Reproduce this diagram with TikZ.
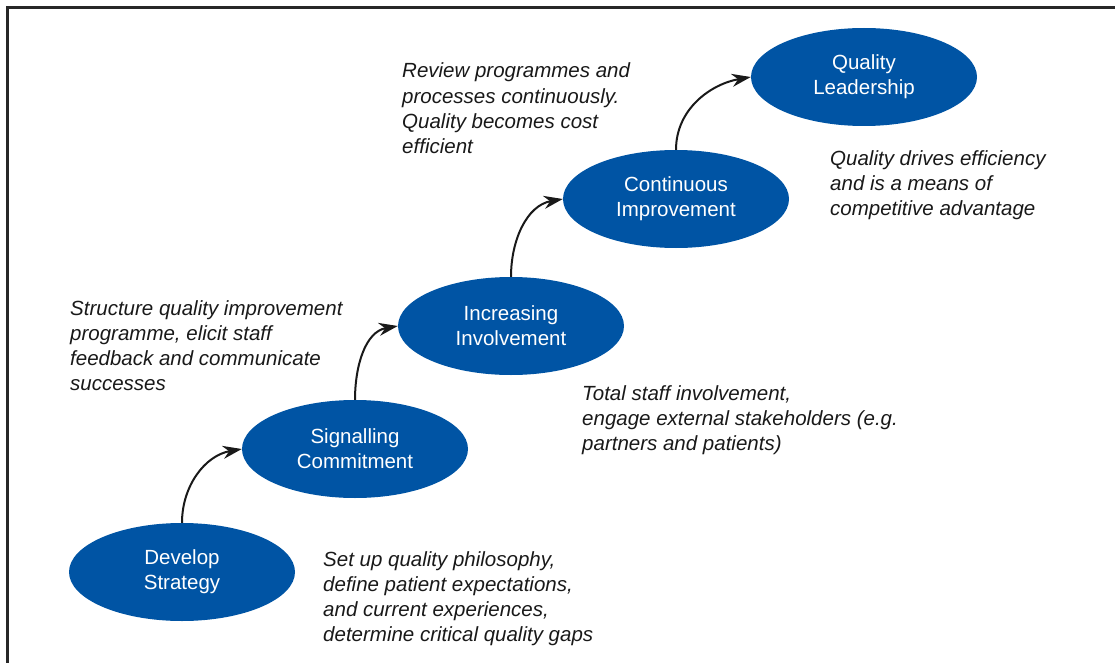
\documentclass[tikz,border=0pt]{standalone}
\usepackage{fontspec}
\setmainfont{Liberation Sans}
\usetikzlibrary{arrows.meta,shapes.geometric}
\definecolor{stepblue}{RGB}{0,84,164}
\definecolor{txtdark}{RGB}{25,25,25}
\definecolor{framegray}{RGB}{40,40,40}
\begin{document}
\begin{tikzpicture}[x=1pt,y=1pt,
  stage/.style={ellipse, fill=stepblue, draw=none, minimum width=226pt, minimum height=98pt,
    inner sep=0pt, text=white, align=center, font=\fontsize{20.5}{25.3}\selectfont},
  note/.style={anchor=base west, inner sep=0pt, align=left, text=txtdark,
    font=\fontsize{20.5}{25.3}\selectfont\itshape},
  stagearrow/.style={line width=2pt, draw=txtdark, -{Stealth[length=19pt,width=13pt]}}
]
\useasboundingbox (0,0) rectangle (1115,-663);
\draw[framegray, line width=3pt] (7.5,-663) -- (7.5,-7.5) -- (1115,-7.5);

\node[stage] (dev)  at (182,-572) {Develop\\Strategy};
\node[stage] (sig)  at (355,-449) {Signalling\\Commitment};
\node[stage] (inc)  at (511,-326) {Increasing\\Involvement};
\node[stage] (cont) at (676,-199) {Continuous\\Improvement};
\node[stage] (ql)   at (864,-77)  {Quality\\Leadership};

\draw[stagearrow] (dev.north)  to[out=90, in=190] (sig.west);
\draw[stagearrow] (sig.north)  to[out=90, in=190] (inc.west);
\draw[stagearrow] (inc.north)  to[out=90, in=190] (cont.west);
\draw[stagearrow] (cont.north) to[out=90, in=190] (ql.west);

\node[note] (nA) at (323,-641.9) {Set up quality philosophy,\\define patient expectations,\\and current experiences,\\determine critical quality gaps};
\node[note] (nB) at (70,-390.9) {Structure quality improvement\\programme, elicit staff\\feedback and communicate\\successes};
\node[note] (nC) at (582,-450.6) {Total staff involvement,\\engage external stakeholders (e.g.\\partners and patients)};
\node[note] (nD) at (402,-153.9) {Review programmes and\\processes continuously.\\Quality becomes cost\\efficient};
\node[note] (nE) at (830,-215.6) {Quality drives efficiency\\and is a means of\\competitive advantage};
\end{tikzpicture}
\end{document}
